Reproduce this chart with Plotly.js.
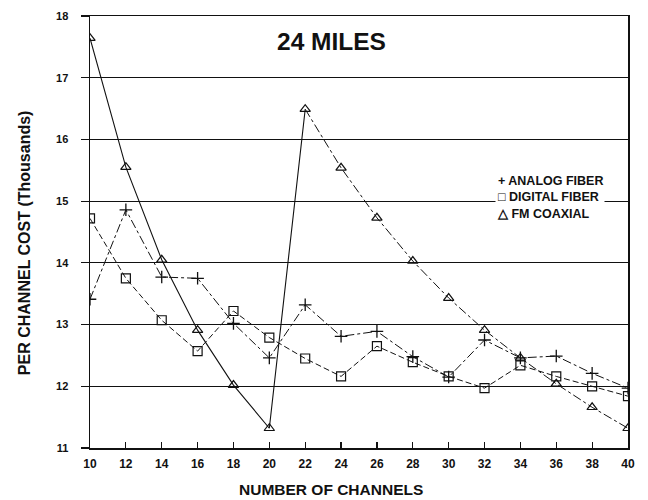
<!DOCTYPE html>
<html><head><meta charset="utf-8">
<script src="https://cdn.plot.ly/plotly-3.0.1.min.js"></script>
<style>html,body{margin:0;padding:0;background:#fff}</style>
</head><body><div id="chart" style="width:648px;height:500px"></div>
<script>
const channels = [10,12,14,16,18,20,22,24,26,28,30,32,34,36,38,40];
const analogFiber = [13.41,14.86,13.77,13.75,13.02,12.46,13.32,12.81,12.89,12.48,12.15,12.75,12.46,12.49,12.21,11.97];
const digitalFiber = [14.72,13.75,13.07,12.57,13.22,12.79,12.45,12.16,12.65,12.39,12.16,11.97,12.34,12.16,12.00,11.84];
const fmCoaxial = [17.64,15.55,14.05,12.91,12.02,11.32,16.49,15.54,14.73,14.03,13.43,12.91,12.46,12.04,11.66,11.32];
const yTicks = [11,12,13,14,15,16,17,18];
const xTicks = channels;

const F = '"Liberation Sans", Arial, sans-serif';
const splitAt = channels.indexOf(22);
const traces = [
  {x: channels, y: analogFiber, mode: 'lines+markers', name: 'ANALOG FIBER',
   line: {color: '#111', width: 1, dash: 'dashdot'},
   marker: {symbol: 'cross-thin-open', size: 9, line: {color: '#111', width: 1.3}}},
  {x: channels, y: digitalFiber, mode: 'lines+markers', name: 'DIGITAL FIBER',
   line: {color: '#111', width: 1, dash: '6px,3px'},
   marker: {symbol: 'square-open', size: 9, color: '#111', line: {width: 1.2}}},
  {x: channels.slice(0, splitAt + 1), y: fmCoaxial.slice(0, splitAt + 1), mode: 'lines', name: 'FM COAXIAL',
   line: {color: '#111', width: 1.1}},
  {x: channels.slice(splitAt), y: fmCoaxial.slice(splitAt), mode: 'lines', name: 'FM COAXIAL',
   line: {color: '#111', width: 1, dash: 'dashdot'}},
  {x: channels, y: fmCoaxial, mode: 'markers', name: 'FM COAXIAL',
   marker: {symbol: 'triangle-up-open', size: 9, color: '#111', line: {width: 1.2}}}
];
traces.forEach(t => t.showlegend = false);

const layout = {
  width: 648, height: 500,
  margin: {l: 90, r: 20, t: 16, b: 52},
  paper_bgcolor: '#fff', plot_bgcolor: '#fff',
  font: {family: F, color: '#111'},
  showlegend: false,
  xaxis: {
    range: [10, 40], tickvals: xTicks, ticktext: xTicks.map(String),
    showgrid: false, zeroline: false,
    showline: true, linecolor: '#111', linewidth: 1.5, mirror: true,
    ticks: 'inside', ticklen: 6, tickcolor: '#111', tickwidth: 1.2,
    ticklabelstandoff: 4,
    tickfont: {family: F, size: 12, color: '#111', weight: 'bold'}
  },
  yaxis: {
    range: [11, 18], tickvals: yTicks, ticktext: yTicks.map(String),
    showgrid: true, gridcolor: '#111', gridwidth: 1.2, zeroline: false,
    showline: true, linecolor: '#111', linewidth: 1.5, mirror: true,
    ticks: 'outside', ticklen: 8, tickcolor: '#111', tickwidth: 1.2,
    ticklabelstandoff: 10,
    tickfont: {family: F, size: 11, color: '#111', weight: 'bold'}
  },
  annotations: [
    {xref: 'paper', yref: 'paper', x: 0.448, y: 0.94, xanchor: 'center', yanchor: 'middle',
     text: '24 MILES', showarrow: false, font: {family: F, size: 24.5, color: '#111', weight: 'bold'}},
    {xref: 'paper', yref: 'paper', x: 0.752, y: 0.579, xanchor: 'left', yanchor: 'middle',
     text: '+ ANALOG FIBER<br>□ DIGITAL FIBER<br>△ FM COAXIAL', align: 'left', showarrow: false,
     bgcolor: '#fff', borderpad: 1,
     font: {family: F, size: 12.5, color: '#111', weight: 'bold'}},
    {xref: 'paper', yref: 'paper', x: 0.448, y: -0.0972, xanchor: 'center', yanchor: 'middle',
     text: 'NUMBER OF CHANNELS', showarrow: false, font: {family: F, size: 15.5, color: '#111', weight: 'bold'}},
    {xref: 'paper', yref: 'paper', x: -0.122, y: 0.475, xanchor: 'center', yanchor: 'middle', textangle: -90,
     text: 'PER CHANNEL COST (Thousands)', showarrow: false, font: {family: F, size: 16, color: '#111', weight: 'bold'}}
  ]
};
Plotly.newPlot('chart', traces, layout, {displayModeBar: false, staticPlot: true});
</script></body></html>
